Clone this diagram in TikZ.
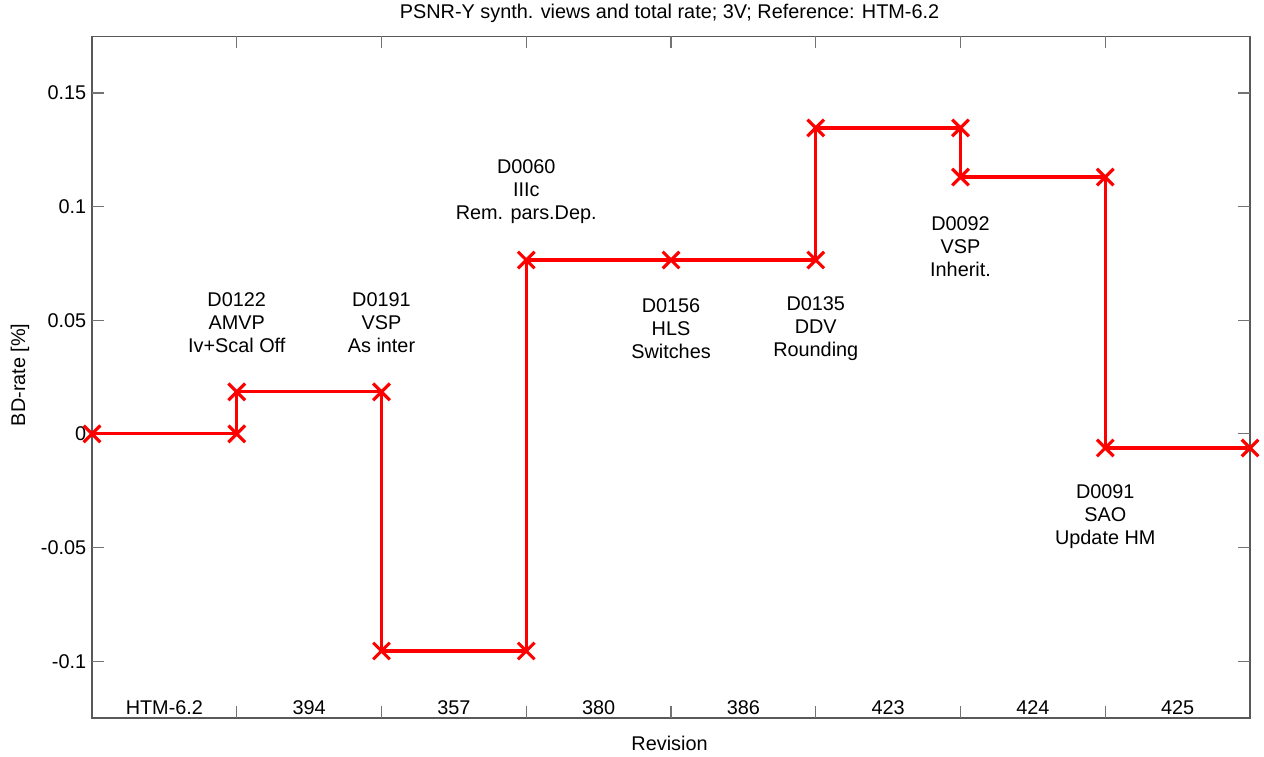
\documentclass[tikz,border=0pt]{standalone}
\usepackage{fontspec}
\setmainfont{Liberation Sans}
\usetikzlibrary{shapes.misc}

\tikzset{
    axisline/.style={color=black!65, line width=0.7pt},
    ticksline/.style={color=black!55, line width=0.6pt},
    curve/.style={color=red, line width=1.8pt},
    xmark/.style={cross out, draw=red, line width=1.8pt, minimum size=0.27cm, inner sep=0pt},
    label/.style={align=center, font=\fontsize{11.3}{13.1}\selectfont}
}

\begin{document}
\begin{tikzpicture}[x=2.895cm, y=45.46cm, font=\fontsize{11.3}{13.1}\selectfont]
    \useasboundingbox (-0.6356,-0.1421) rectangle (8.0967,0.1909);

    % axes box
    \draw[axisline] (0,-0.125) rectangle (8,0.175);
    \foreach \i in {1,...,7} {
        \draw[ticksline] (\i,0.175) -- (\i,0.1697);
        \draw[ticksline] (\i,-0.125) -- (\i,-0.1197);
    }
    \foreach \v/\t in {0.15/0.15, 0.1/0.1, 0.05/0.05, 0/0, -0.05/-0.05, -0.1/-0.1} {
        \draw[ticksline] (0,\v) -- (0.083,\v);
        \draw[ticksline] (8,\v) -- (7.917,\v);
        \node[anchor=east, inner sep=0pt] at (-0.038,\v) {\t};
    }

    % revisions
    \node at (0.5,-0.1205) {HTM-6.2};
    \node at (1.5,-0.1205) {394};
    \node at (2.5,-0.1205) {357};
    \node at (3.5,-0.1205) {380};
    \node at (4.5,-0.1205) {386};
    \node at (5.5,-0.1205) {423};
    \node at (6.5,-0.1205) {424};
    \node at (7.5,-0.1205) {425};

    \node (title) at (3.99,0.1852) {PSNR-Y synth. views and total rate; 3V; Reference: HTM-6.2};
    \node (xlabel) at (3.99,-0.1362) {Revision};
    \node[rotate=90] (ylabel) at (-0.497,0.026) {BD-rate [\%]};

    % BD-rate curve
    \draw[curve] (0,0) -- (1,0) -- (1,0.0185) -- (2,0.0185)
        -- (2,-0.0955) -- (3,-0.0955) -- (3,0.0765) -- (5,0.0765)
        -- (5,0.1346) -- (6,0.1346) -- (6,0.1130) -- (7,0.1130)
        -- (7,-0.0062) -- (8,-0.0062);
    \node[xmark] (p0) at (0,0) {};
    \node[xmark] (p1a) at (1,0) {};
    \node[xmark] (p1b) at (1,0.0185) {};
    \node[xmark] (p2a) at (2,0.0185) {};
    \node[xmark] (p2b) at (2,-0.0955) {};
    \node[xmark] (p3a) at (3,-0.0955) {};
    \node[xmark] (p3b) at (3,0.0765) {};
    \node[xmark] (p4) at (4,0.0765) {};
    \node[xmark] (p5a) at (5,0.0765) {};
    \node[xmark] (p5b) at (5,0.1346) {};
    \node[xmark] (p6a) at (6,0.1346) {};
    \node[xmark] (p6b) at (6,0.1130) {};
    \node[xmark] (p7a) at (7,0.1130) {};
    \node[xmark] (p7b) at (7,-0.0062) {};
    \node[xmark] (p8) at (8,-0.0062) {};

    % proposals
    \node[label] (d0122) at (1,0.0488) {D0122\\AMVP\\Iv+Scal Off};
    \node[label] (d0191) at (2,0.0488) {D0191\\VSP\\As inter};
    \node[label] (d0060) at (3,0.1065) {D0060\\IIIc\\Rem. pars.Dep.};
    \node[label] (d0156) at (4,0.0462) {D0156\\HLS\\Switches};
    \node[label] (d0135) at (5,0.0462) {D0135\\DDV\\Rounding};
    \node[label] (d0092) at (6,0.0823) {D0092\\VSP\\Inherit.};
    \node[label] (d0091) at (7,-0.0365) {D0091\\SAO\\Update HM};
\end{tikzpicture}
\end{document}
